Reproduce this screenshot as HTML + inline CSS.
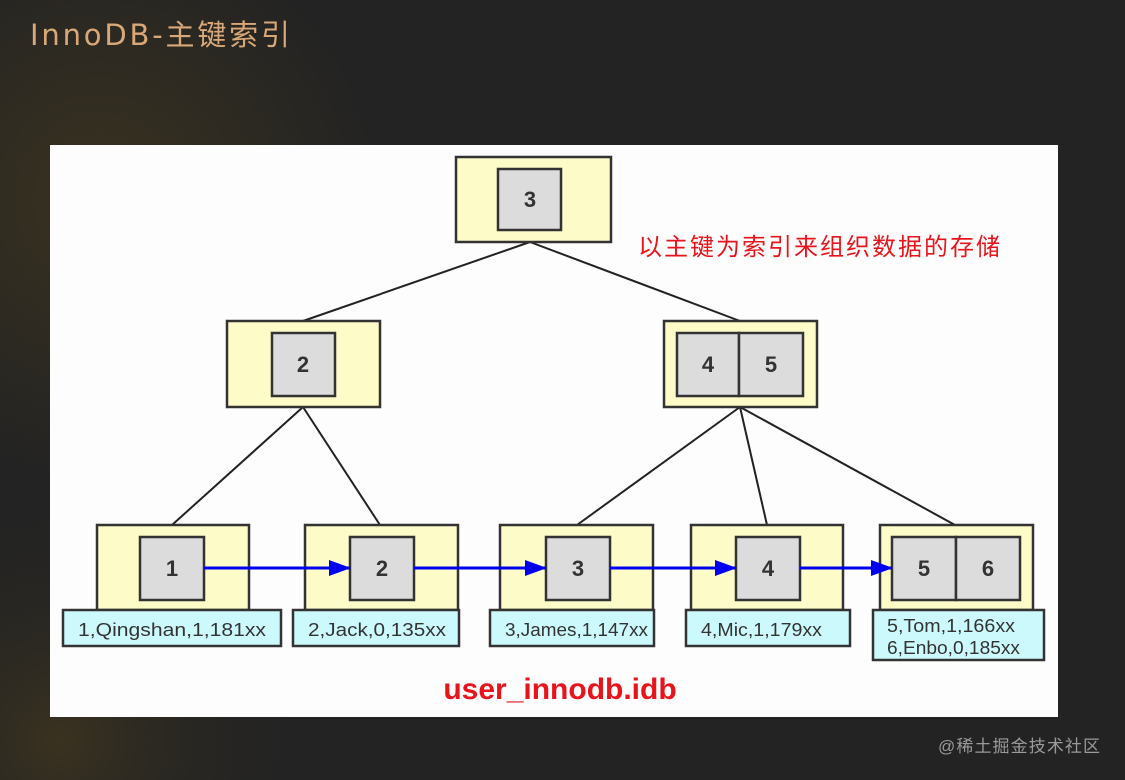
<!DOCTYPE html>
<html><head><meta charset="utf-8"><style>
body{margin:0;width:1125px;height:780px;overflow:hidden;background:#232323;}
</style></head><body>
<svg width="1125" height="780" xmlns="http://www.w3.org/2000/svg" style="display:block">
<defs>
<radialGradient id="g1" cx="100" cy="200" r="280" gradientUnits="userSpaceOnUse">
<stop offset="0" stop-color="#3a3220"/><stop offset="1" stop-color="#232323"/></radialGradient>
<radialGradient id="g2" cx="60" cy="740" r="260" gradientUnits="userSpaceOnUse">
<stop offset="0" stop-color="#3a3220"/><stop offset="1" stop-color="#232323" stop-opacity="0"/></radialGradient>
<marker id="ah" markerWidth="22" markerHeight="16" refX="21" refY="8" orient="auto" markerUnits="userSpaceOnUse"><path d="M0,0 L22,8 L0,16 z" fill="#0000ee"/></marker>
</defs>
<rect width="1125" height="780" fill="url(#g1)"/>
<rect width="1125" height="780" fill="url(#g2)"/>
<text x="30" y="45" font-family="'DejaVu Sans','Noto Sans CJK SC',sans-serif" font-size="29" fill="#d9a878" textLength="260" lengthAdjust="spacing">InnoDB-主键索引</text>
<rect x="50" y="145" width="1008" height="572" fill="#fdfdfd"/>
<g stroke="#222" stroke-width="2" fill="none">
<line x1="530" y1="242" x2="303" y2="321"/><line x1="530" y1="242" x2="740" y2="321"/>
<line x1="303" y1="407" x2="172" y2="525"/><line x1="303" y1="407" x2="380" y2="525"/>
<line x1="740" y1="407" x2="577" y2="525"/><line x1="740" y1="407" x2="767" y2="525"/><line x1="740" y1="407" x2="955" y2="525"/>
</g>
<g stroke="#333" stroke-width="2.5" fill="#fdfbc8">
<rect x="456" y="157" width="155" height="85"/>
<rect x="227" y="321" width="153" height="86"/>
<rect x="664" y="321" width="153" height="86"/>
<rect x="97" y="525" width="152" height="85"/>
<rect x="305" y="525" width="153" height="85"/>
<rect x="500" y="525" width="153" height="85"/>
<rect x="691" y="525" width="152" height="85"/>
<rect x="880" y="525" width="153" height="85"/>
</g>
<g stroke="#333" stroke-width="2.5" fill="#dcdcdc">
<rect x="498" y="169" width="63" height="61"/>
<rect x="272" y="333" width="63" height="63"/>
<rect x="677" y="333" width="62" height="63"/><rect x="739" y="333" width="64" height="63"/>
<rect x="140" y="537" width="64" height="63"/>
<rect x="350" y="537" width="64" height="63"/>
<rect x="546" y="537" width="64" height="63"/>
<rect x="736" y="537" width="64" height="63"/>
<rect x="892" y="537" width="64" height="63"/><rect x="956" y="537" width="64" height="63"/>
</g>
<g font-family="'Liberation Sans',sans-serif" font-weight="bold" font-size="22" fill="#333" text-anchor="middle">
<text x="530" y="207">3</text><text x="303" y="372">2</text>
<text x="708" y="372">4</text><text x="771" y="372">5</text>
<text x="172" y="576">1</text><text x="382" y="576">2</text><text x="578" y="576">3</text><text x="768" y="576">4</text>
<text x="924" y="576">5</text><text x="988" y="576">6</text>
</g>
<g stroke="#0000ee" stroke-width="3" marker-end="url(#ah)">
<line x1="204" y1="568" x2="350" y2="568"/>
<line x1="414" y1="568" x2="546" y2="568"/>
<line x1="610" y1="568" x2="736" y2="568"/>
<line x1="800" y1="568" x2="892" y2="568"/>
</g>
<g stroke="#333" stroke-width="2.5" fill="#ccfafc">
<rect x="63" y="610" width="218" height="36"/>
<rect x="293" y="610" width="166" height="36"/>
<rect x="490" y="610" width="164" height="36"/>
<rect x="686" y="610" width="164" height="36"/>
<rect x="873" y="610" width="171" height="50"/>
</g>
<g font-family="'Liberation Sans',sans-serif" font-size="18" fill="#333" lengthAdjust="spacingAndGlyphs">
<text x="78" y="636" textLength="188" lengthAdjust="spacingAndGlyphs">1,Qingshan,1,181xx</text>
<text x="308" y="636" textLength="138" lengthAdjust="spacingAndGlyphs">2,Jack,0,135xx</text>
<text x="505" y="636" textLength="143" lengthAdjust="spacingAndGlyphs">3,James,1,147xx</text>
<text x="701" y="636" textLength="121" lengthAdjust="spacingAndGlyphs">4,Mic,1,179xx</text>
<text x="887" y="632" textLength="128" lengthAdjust="spacingAndGlyphs">5,Tom,1,166xx</text>
<text x="887" y="654" textLength="133" lengthAdjust="spacingAndGlyphs">6,Enbo,0,185xx</text>
</g>
<text x="638" y="255" font-family="'Liberation Sans','Noto Sans CJK SC',sans-serif" font-size="24" fill="#e8141c" textLength="362">以主键为索引来组织数据的存储</text>
<text x="560" y="699" text-anchor="middle" font-family="'Liberation Sans',sans-serif" font-weight="bold" font-size="30" fill="#e8141c">user_innodb.idb</text>
<text x="938" y="752" font-family="'Liberation Sans','Noto Sans CJK SC',sans-serif" font-size="17" fill="#9a9a9a" textLength="162">@稀土掘金技术社区</text>
</svg>
</body></html>
